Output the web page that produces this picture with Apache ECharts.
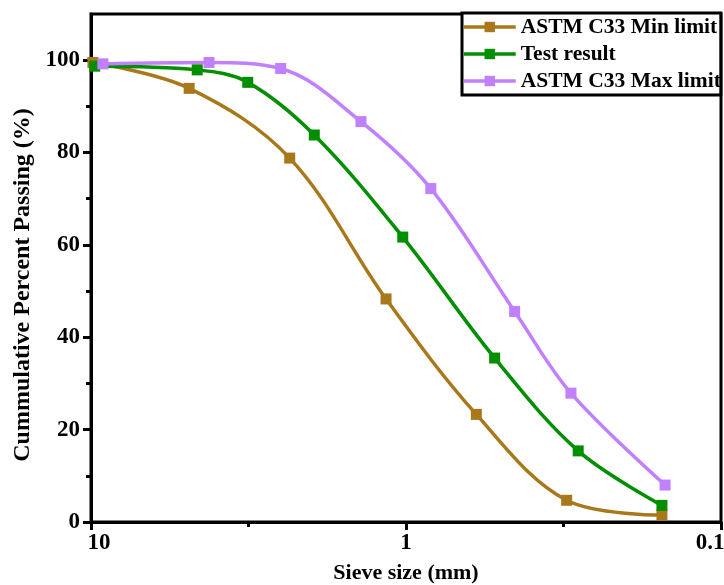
<!DOCTYPE html>
<html>
<head>
<meta charset="utf-8">
<script src="https://cdn.jsdelivr.net/npm/echarts@6/dist/echarts.min.js"></script>
<style>
  html, body { margin: 0; padding: 0; background: #fff; }
  #chart { width: 724px; height: 585px; }
</style>
</head>
<body>
<div id="chart"></div>
<script>
// Sieve analysis: cumulative percent passing against sieve opening (mm)
const seriesNames = ['ASTM C33 Min limit', 'Test result', 'ASTM C33 Max limit'];

const minSizes   = [9.86, 4.88, 2.34, 1.157, 0.598, 0.309, 0.154];
const minPassing = [99.5, 93.9, 78.8, 48.3, 23.3, 4.7, 1.5];

const testSizes   = [9.73, 4.60, 3.18, 1.955, 1.024, 0.523, 0.284, 0.154];
const testPassing = [98.7, 97.9, 95.2, 83.8, 61.7, 35.5, 15.4, 3.6];

const maxSizes   = [9.17, 4.22, 2.50, 1.39, 0.834, 0.452, 0.2995, 0.1505];
const maxPassing = [99.2, 99.5, 98.2, 86.7, 72.2, 45.6, 27.9, 8.0];

const colors = ['#A8781A', '#008F00', '#C080FF'];

// axis ticks
const xMajorTicks = [10, 1, 0.1];
const xMinorTicks = [3.1623, 0.31623];
const yMajorTicks = [0, 20, 40, 60, 80, 100];
const yMinorTicks = [10, 30, 50, 70, 90];

function pairs(xs, ys) {
  return xs.map((x, i) => [x, ys[i]]);
}

const fontFamily = '"Liberation Serif", "Times New Roman", serif';
const black = '#000';
const tickFont = 23;

const chart = echarts.init(document.getElementById('chart'), null, { renderer: 'canvas' });

function makeSeries(name, data, color) {
  return {
    name: name,
    type: 'line',
    xAxisIndex: 0,
    yAxisIndex: 0,
    data: data,
    smooth: 0.35,
    symbol: 'rect',
    symbolSize: 11,
    lineStyle: { color: color, width: 3.5 },
    itemStyle: { color: color },
    emphasis: { disabled: true },
    animation: false
  };
}

const logX = {
  type: 'log',
  logBase: 10,
  min: 0.1, max: 10,
  inverse: true,
  position: 'bottom'
};

const labelText = { fontFamily: fontFamily, fontWeight: 'bold', fontSize: tickFont, color: black };

chart.setOption({
  animation: false,
  backgroundColor: '#fff',
  grid: {
    left: 91, right: 3, top: 14, bottom: 63,
    outerBoundsMode: 'none',
    containLabel: false,
    show: true, borderColor: black, borderWidth: 3, backgroundColor: 'transparent'
  },
  legend: {
    orient: 'vertical',
    left: 462, top: 13,
    padding: [3, 0, 3, 0],
    itemWidth: 52, itemHeight: 13,
    itemGap: 5,
    backgroundColor: '#fff',
    borderColor: black, borderWidth: 3,
    lineStyle: { width: 3.5 },
    textStyle: { fontFamily: fontFamily, fontWeight: 'bold', fontSize: 21.5, color: black, lineHeight: 22 },
    data: seriesNames
  },
  xAxis: [
    Object.assign({}, logX, {
      name: 'Sieve size (mm)',
      nameLocation: 'middle',
      nameGap: 40,
      nameTextStyle: { fontFamily: fontFamily, fontWeight: 'bold', fontSize: 22, color: black },
      axisLine: { show: true, lineStyle: { color: black, width: 3 } },
      axisTick: { show: true, inside: false, length: 8, customValues: xMajorTicks, lineStyle: { color: black, width: 3 } },
      minorTick: { show: false },
      splitLine: { show: false },
      axisLabel: Object.assign({}, labelText, {
        customValues: xMajorTicks,
        margin: 10,
        formatter: v => {
          if (v > 5) return '{first|10}';
          if (v < 0.5) return '{last|0.1}';
          return '{mid|1}';
        },
        rich: {
          first: Object.assign({}, labelText, { padding: [0, 0, 0, 16] }),
          mid:   Object.assign({}, labelText),
          last:  Object.assign({}, labelText, { padding: [0, 22, 0, 0] })
        }
      })
    }),
    Object.assign({}, logX, {
      axisLine: { show: false },
      axisTick: { show: true, inside: false, length: 5, customValues: xMinorTicks, lineStyle: { color: black, width: 3 } },
      axisLabel: { show: false },
      splitLine: { show: false }
    })
  ],
  yAxis: [
    {
      type: 'value',
      min: 0, max: 110, interval: 20,
      position: 'left',
      name: 'Cummulative Percent Passing (%)',
      nameLocation: 'middle',
      nameGap: 56,
      nameTextStyle: { fontFamily: fontFamily, fontWeight: 'bold', fontSize: 24, color: black, padding: [0, 34, 0, 0] },
      axisLine: { show: true, lineStyle: { color: black, width: 3 } },
      axisTick: { show: true, inside: false, length: 8, customValues: yMajorTicks, lineStyle: { color: black, width: 3 } },
      minorTick: { show: false },
      splitLine: { show: false },
      axisLabel: Object.assign({}, labelText, { customValues: yMajorTicks, margin: 11 })
    },
    {
      type: 'value',
      min: 0, max: 110,
      position: 'left',
      axisLine: { show: false },
      axisTick: { show: true, inside: false, length: 5, customValues: yMinorTicks, lineStyle: { color: black, width: 3 } },
      axisLabel: { show: false },
      splitLine: { show: false }
    }
  ],
  series: [
    makeSeries(seriesNames[0], pairs(minSizes, minPassing), colors[0]),
    makeSeries(seriesNames[1], pairs(testSizes, testPassing), colors[1]),
    makeSeries(seriesNames[2], pairs(maxSizes, maxPassing), colors[2])
  ]
});
</script>
</body>
</html>
